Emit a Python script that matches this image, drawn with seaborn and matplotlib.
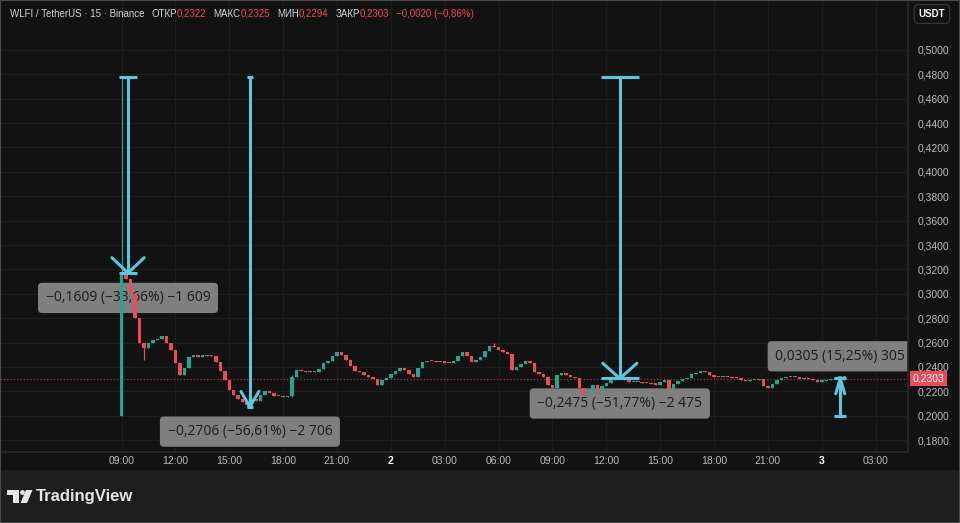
import matplotlib.pyplot as plt
import matplotlib.patches as mpatches
import seaborn as sns
import pandas as pd
import numpy as np

# WLFI / USDT, 15-minute candles from 09:00 on the 1st
first_open = 0.2000
closes = [
    0.3171, 0.3120, 0.3000, 0.2800, 0.2600, 0.2555, 0.2600, 0.2620, 0.2625, 0.2650,
    0.2600, 0.2540, 0.2430, 0.2330, 0.2390, 0.2480, 0.2500, 0.2485, 0.2490, 0.2500,
    0.2490, 0.2440, 0.2370, 0.2290, 0.2210, 0.2170, 0.2140, 0.2110, 0.2090, 0.2140,
    0.2120, 0.2170, 0.2200, 0.2185, 0.2165, 0.2160, 0.2150, 0.2160, 0.2317, 0.2374,
    0.2365, 0.2360, 0.2370, 0.2355, 0.2380, 0.2432, 0.2450, 0.2490, 0.2520, 0.2495,
    0.2460, 0.2410, 0.2370, 0.2355, 0.2330, 0.2320, 0.2300, 0.2250, 0.2290, 0.2310,
    0.2345, 0.2370, 0.2390, 0.2375, 0.2345, 0.2320, 0.2395, 0.2440, 0.2450, 0.2445,
    0.2440, 0.2440, 0.2435, 0.2430, 0.2445, 0.2490, 0.2520, 0.2490, 0.2440, 0.2460,
    0.2480, 0.2530, 0.2570, 0.2560, 0.2535, 0.2520, 0.2505, 0.2375, 0.2400, 0.2420,
    0.2450, 0.2430, 0.2355, 0.2340, 0.2320, 0.2250, 0.2230, 0.2330, 0.2350, 0.2335,
    0.2320, 0.2310, 0.2230, 0.2170, 0.2200, 0.2250, 0.2210, 0.2240, 0.2270, 0.2290,
    0.2305, 0.2300, 0.2290, 0.2275, 0.2275, 0.2280, 0.2270, 0.2265, 0.2260, 0.2255,
    0.2275, 0.2290, 0.2220, 0.2260, 0.2285, 0.2300, 0.2310, 0.2340, 0.2350, 0.2370,
    0.2355, 0.2330, 0.2320, 0.2315, 0.2320, 0.2318, 0.2310, 0.2305, 0.2290, 0.2285,
    0.2290, 0.2290, 0.2300, 0.2240, 0.2230, 0.2260, 0.2290, 0.2310, 0.2320, 0.2315,
    0.2318, 0.2300, 0.2305, 0.2300, 0.2290, 0.2280, 0.2285, 0.2290, 0.2300, 0.2310,
    0.2322, 0.2303,
]
# visible wicks: candle index -> price
wick_high = {0: 0.4780, 5: 0.2600, 38: 0.2335, 83: 0.2600, 161: 0.2325}
wick_low = {0: 0.1998, 5: 0.2456, 28: 0.2074, 38: 0.2150, 161: 0.2294}

last_price = 0.2303
tick_pos = [0, 12, 24, 36, 48, 60, 72, 84, 96, 108, 120, 132, 144, 156, 168]
tick_labels = ['09:00', '12:00', '15:00', '18:00', '21:00', '2', '03:00', '06:00',
               '09:00', '12:00', '15:00', '18:00', '21:00', '3', '03:00']
price_ticks = [0.18, 0.20, 0.22, 0.24, 0.26, 0.28, 0.30, 0.32, 0.34,
               0.36, 0.38, 0.40, 0.42, 0.44, 0.46, 0.48, 0.50]

header_labels = ['ОТКР', 'МАКС', 'МИН', 'ЗАКР']
header_values = ['0,2322', '0,2325', '0,2294', '0,2303']
header_change = '−0,0020 (−0,86%)'

# price range measurements
tool_x = [1.45, 28.6, 111.0, 160.1]
tool_from = [0.4780, 0.4780, 0.4780, 0.2000]
tool_to = [0.3171, 0.2074, 0.2305, 0.2305]
tool_bar = [1.9, 0.7, 4.2, 1.3]
tool_head = [3.6, 2.0, 3.8, 1.0]
tool_text = ['−0,1609 (−33,66%) −1 609', '−0,2706 (−56,61%) −2 706',
             '−0,2475 (−51,77%) −2 475', '0,0305 (15,25%) 305']

BG = '#121212'
GREEN = '#22a68f'
RED = '#ef4a55'
CYAN = '#5cc6dc'
TXT = '#b8bbc2'

sns.set_theme(style='dark', rc={'axes.facecolor': BG, 'figure.facecolor': BG,
                                'grid.color': '#1d1d1d', 'axes.edgecolor': '#2a2a2a'})
plt.rcParams['font.family'] = ['Liberation Sans', 'DejaVu Sans']

fig = plt.figure(figsize=(9.6, 5.23), dpi=100)
ax = fig.add_axes([0, 1 - 452 / 523, 908 / 960, 452 / 523])

df = pd.DataFrame({'close': closes})
df['open'] = [first_open] + closes[:-1]
df['high'] = df[['open', 'close']].max(axis=1)
df['low'] = df[['open', 'close']].min(axis=1)
for i, v in wick_high.items():
    df.loc[i, 'high'] = v
for i, v in wick_low.items():
    df.loc[i, 'low'] = v
colors = np.where(df['close'] >= df['open'], GREEN, RED)

ax.vlines(df.index, df['low'], df['high'], colors=colors, lw=0.9, zorder=3)
ax.bar(df.index, (df['close'] - df['open']).abs().clip(lower=0.001),
       bottom=df[['open', 'close']].min(axis=1), width=0.78, color=colors,
       edgecolor=colors, linewidth=0, zorder=3)

ax.axhline(last_price, color=RED, lw=0.8, ls=(0, (1, 2)), alpha=0.75, zorder=2)
ax.annotate(f'{last_price:.4f}'.replace('.', ','), xy=(1, last_price),
            xycoords=('axes fraction', 'data'), xytext=(3, 0), textcoords='offset points',
            ha='left', va='center', fontsize=7.5, color='white',
            bbox=dict(boxstyle='square,pad=0.25', fc=RED, ec='none'), annotation_clip=False)

# measurement tools
head_h = 0.0125
for x, p0, p1, bw, hw, txt in zip(tool_x, tool_from, tool_to, tool_bar, tool_head, tool_text):
    kw = dict(color=CYAN, lw=2.2, solid_capstyle='butt', zorder=5)
    ax.plot([x, x], [p0, p1], **kw)
    ax.plot([x - bw, x + bw], [p0, p0], **kw)
    ax.plot([x - bw, x + bw], [p1, p1], **kw)
    hy = p1 + head_h if p1 < p0 else p1 - head_h
    ax.plot([x - hw, x, x + hw], [hy, p1, hy], color=CYAN, lw=2.2, zorder=5)
    off = -18 if p1 < p0 else 16
    ax.annotate(txt, xy=(x, p1), xytext=(0, off), textcoords='offset points',
                ha='center', va='center', fontsize=10, color='#1b1b1b',
                family=['Open Sans', 'DejaVu Sans'], clip_on=True,
                bbox=dict(boxstyle='round,pad=0.55,rounding_size=0.3', fc='#7f7f7f', ec='none'),
                zorder=2)

ax.set_xlim(-27.07, 175.2)
ax.set_ylim(0.1702, 0.541)
ax.set_xticks(tick_pos, tick_labels)
ax.set_yticks(price_ticks, [f'{p:.4f}'.replace('.', ',') for p in price_ticks])
ax.yaxis.tick_right()
ax.tick_params(axis='x', length=0, pad=3, labelsize=7.5, labelcolor=TXT)
ax.tick_params(axis='y', length=0, pad=7, labelsize=7.5, labelcolor=TXT)
for lbl in ax.get_xticklabels():
    if lbl.get_text() in ('2', '3'):
        lbl.set_color('white')
        lbl.set_fontweight('bold')
ax.grid(True, lw=0.8)
for s in ['top', 'left']:
    ax.spines[s].set_visible(False)
ax.spines['right'].set_color('#2a2a2a')
ax.spines['bottom'].set_color('#2a2a2a')

# header line
hsize = 7
prev = ax.annotate('WLFI / TetherUS · 15 · Binance', xy=(10, 438), xycoords='axes pixels',
                   va='center', ha='left', fontsize=hsize, color='#d1d4dc')
for lab, val in zip(header_labels, header_values):
    prev = ax.annotate(lab, xy=(1, 0.5), xycoords=prev, xytext=(5, 0), textcoords='offset points',
                       va='center', ha='left', fontsize=hsize, color='#d1d4dc')
    prev = ax.annotate(val, xy=(1, 0.5), xycoords=prev, xytext=(0, 0), textcoords='offset points',
                       va='center', ha='left', fontsize=hsize, color=RED)
ax.annotate(header_change, xy=(1, 0.5), xycoords=prev, xytext=(5, 0), textcoords='offset points',
            va='center', ha='left', fontsize=hsize, color=RED)

fig.text(932 / 960, 1 - 14 / 523, 'USDT', ha='center', va='center', fontsize=7,
         color='white', fontweight='bold',
         bbox=dict(boxstyle='round,pad=0.45', fc=BG, ec='#3a3a3a', lw=0.8))

# bottom band with logo
axb = fig.add_axes([0, 0, 1, 53 / 523])
axb.set_xlim(0, 960)
axb.set_ylim(523, 470)
axb.axis('off')
axb.add_patch(mpatches.Rectangle((0, 470), 960, 53, fc='#1e1e1e', ec='none'))
axb.add_patch(mpatches.Polygon([(7, 490), (19, 490), (19, 503), (13, 503), (13, 495), (7, 495)],
                               fc='#e6e6e6', ec='none'))
axb.add_patch(mpatches.Circle((22.5, 492.5), 2.4, fc='#e6e6e6', ec='none'))
axb.add_patch(mpatches.Polygon([(26, 490), (32.5, 490), (27, 503), (20.5, 503)],
                               fc='#e6e6e6', ec='none'))
axb.text(36, 497, 'TradingView', fontsize=12, color='#e6e6e6', va='center', ha='left',
         fontweight='bold')

fig.add_artist(mpatches.Rectangle((0, 0), 1, 1, transform=fig.transFigure, fill=False,
                                  ec='#4a4a4a', lw=1.5))

fig.savefig('out.png', dpi=100, facecolor=BG)
